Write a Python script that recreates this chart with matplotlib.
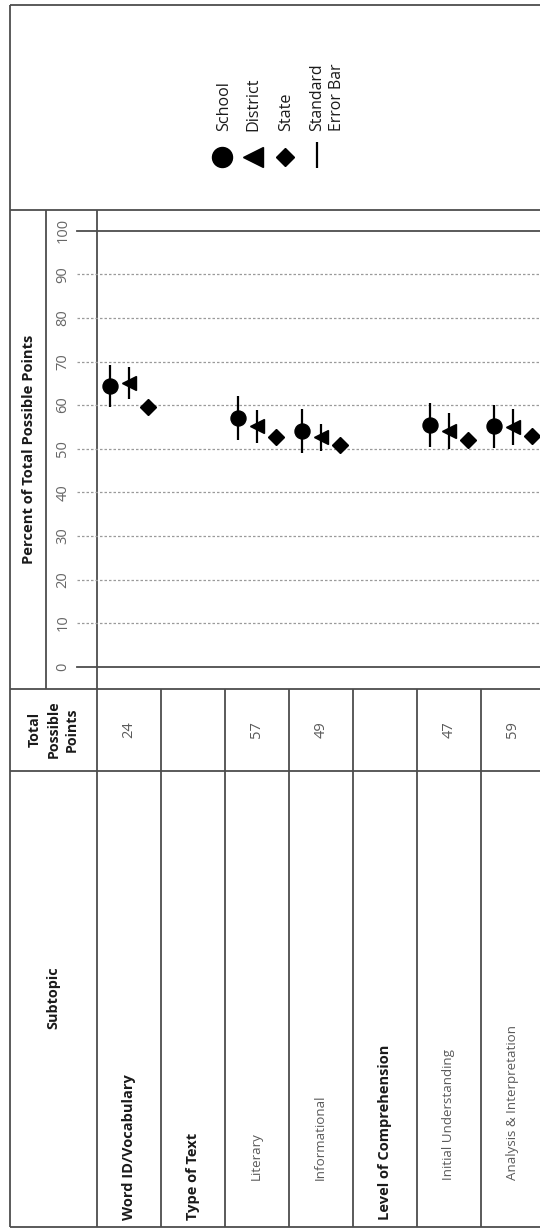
import numpy as np
import matplotlib
matplotlib.use("Agg")
import matplotlib.pyplot as plt
from matplotlib import transforms

# ---------------- data ----------------
subtopics = ["Word ID/Vocabulary", "Type of Text", "Literary", "Informational",
             "Level of Comprehension", "Initial Understanding", "Analysis & Interpretation"]
is_group = [True, True, False, False, True, False, False]
total_points = ["24", "", "57", "49", "", "47", "59"]

school = [64.4, np.nan, 57.0, 54.1, np.nan, 55.4, 55.1]
school_se = [4.9, np.nan, 5.0, 5.0, np.nan, 5.0, 4.9]
district = [65.0, np.nan, 55.1, 52.6, np.nan, 54.0, 55.0]
district_se = [3.7, np.nan, 3.7, 3.1, np.nan, 4.1, 4.2]
state = [59.6, np.nan, 52.7, 50.8, np.nan, 51.9, 52.8]

y_ticks = [0, 10, 20, 30, 40, 50, 60, 70, 80, 90, 100]
legend_labels = ["School", "District", "State"]

# ---------------- layout ----------------
W, H = 540, 1228
FONT = "Open Sans"
LINE = "#4d4d4d"
DARK = "#1a1a1a"
GREY = "#5a5a5a"
plt.rcParams["font.family"] = [FONT, "DejaVu Sans"]

fig = plt.figure(figsize=(W / 100, H / 100), dpi=100)
bg = fig.add_axes([0, 0, 1, 1])
bg.set_xlim(0, W)
bg.set_ylim(H, 0)
bg.axis("off")

x_left_border = 10
x_title_sep = 46
x_axis = 96.7
col_w = 64.0
y_top = 5
y_legend_bot = 210
y_table_top = 689
y_sep = 770.7
y_bottom = 1227
px_per_unit = 4.36
y_zero_px = 666.7

ax = fig.add_axes([x_axis / W, (H - y_table_top) / H,
                   (W - x_axis) / W, (y_table_top - y_legend_bot) / H])
ax.set_xlim(-0.5, -0.5 + (W - x_axis) / col_w)
ax.set_ylim((y_zero_px - y_table_top) / px_per_unit, (y_zero_px - y_legend_bot) / px_per_unit)
ax.patch.set_visible(False)
for s in ax.spines.values():
    s.set_visible(False)
ax.set_xticks([])

# gridlines
xmin_frac = (77 - x_axis) / (W - x_axis)
for t in y_ticks:
    if t in (0, 100):
        ax.axhline(t, xmin=xmin_frac, xmax=1, color=LINE, lw=1.3, clip_on=False, zorder=1)
    else:
        ax.axhline(t, xmin=xmin_frac, xmax=1, color="#9a9a9a", lw=0.9,
                   dashes=(2, 1.6), clip_on=False, zorder=1)

ax.set_yticks(y_ticks)
ax.set_yticklabels([str(t) for t in y_ticks], rotation=90, va="center", ha="center",
                   fontsize=10.5, color="#666666")
ax.tick_params(axis="y", length=0, pad=24.3)
ax.set_ylabel("Percent of Total Possible Points", fontsize=10.6, fontweight="bold", color=DARK)
ax.yaxis.set_label_coords((29 - x_axis) / (W - x_axis), 0.5)
ax.yaxis.label.set_va("center")

# data
x = np.arange(len(subtopics))
ax.errorbar(x - 0.29, school, yerr=school_se, fmt="o", color="black", ms=10.8,
            elinewidth=1.6, capsize=0, zorder=3)
ax.errorbar(x + 0.01, district, yerr=district_se, fmt="<", color="black", ms=10.5,
            elinewidth=1.6, capsize=0, zorder=3)
ax.plot(x + 0.30, state, "D", color="black", ms=8.4, zorder=3)

# ---------------- table frame ----------------
lw = 1.3
bg.hlines([y_top, y_legend_bot, y_table_top, y_sep, y_bottom], x_left_border, W, color=LINE, lw=lw)
bg.vlines(x_left_border, y_top, y_bottom, color=LINE, lw=lw)
bg.vlines(x_title_sep, y_legend_bot, y_table_top, color=LINE, lw=lw)
bg.vlines(x_axis, y_legend_bot, y_bottom, color=LINE, lw=lw)
mix = transforms.blended_transform_factory(ax.transData, bg.transData)
for i in range(len(subtopics) - 1):
    bg.vlines(i + 0.5, y_table_top, y_bottom, color=LINE, lw=lw, transform=mix)

# header cells
hx = (x_left_border + x_axis) / 2
bg.text(hx, 729.5, "Total\nPossible\nPoints", rotation=90, ha="center", va="center",
        multialignment="center", fontsize=10.2, fontweight="bold", linespacing=1.4,
        color=DARK)
bg.text(hx, 998, "Subtopic", rotation=90, ha="center", va="center",
        fontsize=10.4, fontweight="bold", color=DARK)

for i, (name, grp, pts) in enumerate(zip(subtopics, is_group, total_points)):
    if grp:
        bg.text(i, 1220, name, transform=mix, rotation=90, rotation_mode="anchor",
                ha="left", va="center", fontsize=10.5, fontweight="bold", color=DARK)
    else:
        bg.text(i, 1180, name, transform=mix, rotation=90, rotation_mode="anchor",
                ha="left", va="center", fontsize=9.6, color=GREY)
    if pts:
        bg.text(i, 729.3, pts, transform=mix, rotation=90, ha="center", va="center",
                fontsize=10.5, color=GREY)

# ---------------- legend ----------------
ly = 156.7
bg.plot([221.7], [ly], "o", color="black", ms=14.4)
bg.plot([252.7], [ly], "<", color="black", ms=14.0)
bg.plot([285.0], [ly], "D", color="black", ms=9.2)
bg.vlines(316.7, 142.3, 168.3, color="black", lw=1.6)
for lx, lab in zip([224, 253.3, 286], legend_labels):
    bg.text(lx, 131, lab, rotation=90, rotation_mode="anchor", ha="left", va="center",
            fontsize=11.6, color=DARK)
bg.text(317.3, 131, "Standard", rotation=90, rotation_mode="anchor", ha="left", va="center",
        fontsize=11.4, color=DARK)
bg.text(336.7, 131, "Error Bar", rotation=90, rotation_mode="anchor", ha="left", va="center",
        fontsize=11.4, color=DARK)

fig.savefig("out.png", dpi=100)
